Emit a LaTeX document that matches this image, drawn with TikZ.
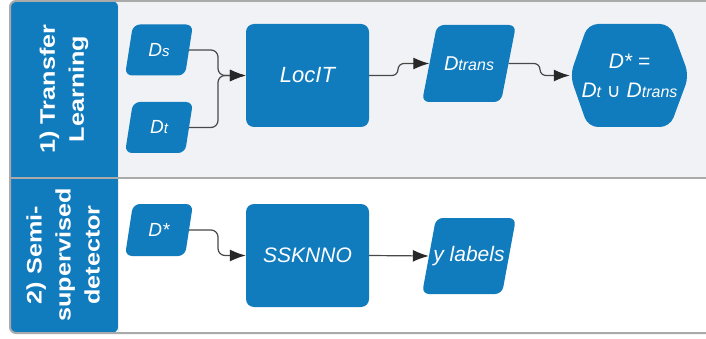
\documentclass[tikz,border=0pt]{standalone}
\usepackage{fontspec}
\setmainfont{Liberation Sans}
\newfontfamily\dvsym{DejaVu Sans}
\usetikzlibrary{arrows.meta}
\definecolor{nodeblue}{RGB}{16,123,189}
\definecolor{secone}{RGB}{241,242,245}
\definecolor{framegray}{RGB}{170,170,170}
\definecolor{linegray}{RGB}{72,72,72}
\definecolor{tipgray}{RGB}{40,40,40}
\newcommand{\fsz}[1]{\fontsize{#1}{#1}\selectfont}
\tikzset{
  blockfill/.style={fill=nodeblue},
  conn/.style={draw=linegray, line width=1.2pt, rounded corners=7pt,
    -{Latex[length=16pt,width=12pt,fill=tipgray,color=tipgray]}},
  lbl/.style={text=white, font=\itshape, inner sep=0pt, align=center},
  rectbox/.style={fill=nodeblue, rounded corners=8pt, inner sep=0pt},
  headtext/.style={rotate=90, text=white, align=center,
    font=\fontsize{21}{29}\selectfont\bfseries},
}
% name, cx, cy, w, h, slant, text
\newcommand{\paranode}[7]{%
  \fill[nodeblue, rounded corners=7pt]
    ({#2-#4/2+#6},{#3-#5/2}) -- ({#2+#4/2},{#3-#5/2}) --
    ({#2+#4/2-#6},{#3+#5/2}) -- ({#2-#4/2},{#3+#5/2}) -- cycle;
  \node[lbl, minimum width={(#4-#6)*1pt}, minimum height={#5*1pt}] (#1) at (#2,#3) {#7};
}
\begin{document}
\begin{tikzpicture}[x=1pt,y=-1pt]
\useasboundingbox (0,0) rectangle (706,339);
\clip (0,0) rectangle (706,339);
% backgrounds
\fill[secone, rounded corners=6pt] (10,1) rectangle (740,178);
\fill[white] (10,178) rectangle (740,333);
\fill[nodeblue, rounded corners=6pt] (10,1) rectangle (118,60);
\fill[nodeblue] (10,20) rectangle (118,178);
\fill[nodeblue, rounded corners=6pt] (10,178) rectangle (118,333);
\fill[nodeblue] (10,178) rectangle (118,300);
\draw[white!85!gray, line width=1pt] (118,1) -- (118,333);
\draw[framegray, line width=2pt] (10,178) -- (740,178);
\draw[framegray, line width=2pt, rounded corners=6pt] (740,1) -- (10,1) -- (10,333) -- (740,333);
% headers
\node[headtext] (h1) at (64,89) {\scalebox{1.2}[1]{1) Transfer}\\\scalebox{1.2}[1]{Learning}};
\node[headtext] (h2) at (63,255) {\scalebox{1.2}[1]{2) Semi-}\\\scalebox{1.2}[1]{supervised}\\\scalebox{1.2}[1]{detector}};
% section 1 nodes
\paranode{Ds}{159}{50}{68}{51}{8}{\fsz{19}D{\fsz{15}s}}
\paranode{Dt}{159}{127.5}{68}{51}{8}{\fsz{19}D{\fsz{15}t}}
\node[rectbox, minimum width=123pt, minimum height=103pt, lbl] (LocIT) at (307.5,75.5) {\fsz{22}LocIT};
\paranode{Dtrans}{469}{63.5}{94}{77}{15}{\fsz{20}D{\fsz{16}trans}}
\fill[nodeblue, rounded corners=10pt] (570,75.5) -- (588,24) -- (670,24) -- (689,75.5) -- (670,127) -- (588,127) -- cycle;
\node[lbl, minimum width=119pt, minimum height=103pt,
  font=\itshape\fontsize{21}{29}\selectfont] (hex) at (629.5,75.5)
  {D* =\\D{\fontsize{16}{29}\selectfont t} {\dvsym\fontsize{19}{29}\selectfont ∪} D{\fontsize{16}{29}\selectfont trans}};
% section 2 nodes
\paranode{Dstar}{159}{230}{68}{52}{8}{\fsz{19}D*}
\node[rectbox, minimum width=123pt, minimum height=103pt, lbl] (SSKNNO) at (307.5,255.5) {\fsz{21}SSKNNO};
\paranode{ylab}{469}{256}{94}{76}{14}{\fsz{21}y labels}
% junction coordinates
\coordinate (j1) at (218,75.5);
\coordinate (j2) at (398,63.5);
\coordinate (j3) at (540,75.5);
\coordinate (j4) at (218,255.5);
% connectors
\draw[conn] (Ds.east) -| (j1) -- (LocIT.west);
\draw[conn] (Dt.east) -| (j1) -- (LocIT.west);
\draw[conn, rounded corners=6pt] (LocIT.east) -| (j2) -- (Dtrans.west);
\draw[conn, rounded corners=6pt] (Dtrans.east) -| (j3) -- (hex.west);
\draw[conn] (Dstar.east) -| (j4) -- (SSKNNO.west);
\draw[conn] (SSKNNO.east) -- (ylab.west);
\end{tikzpicture}
\end{document}
